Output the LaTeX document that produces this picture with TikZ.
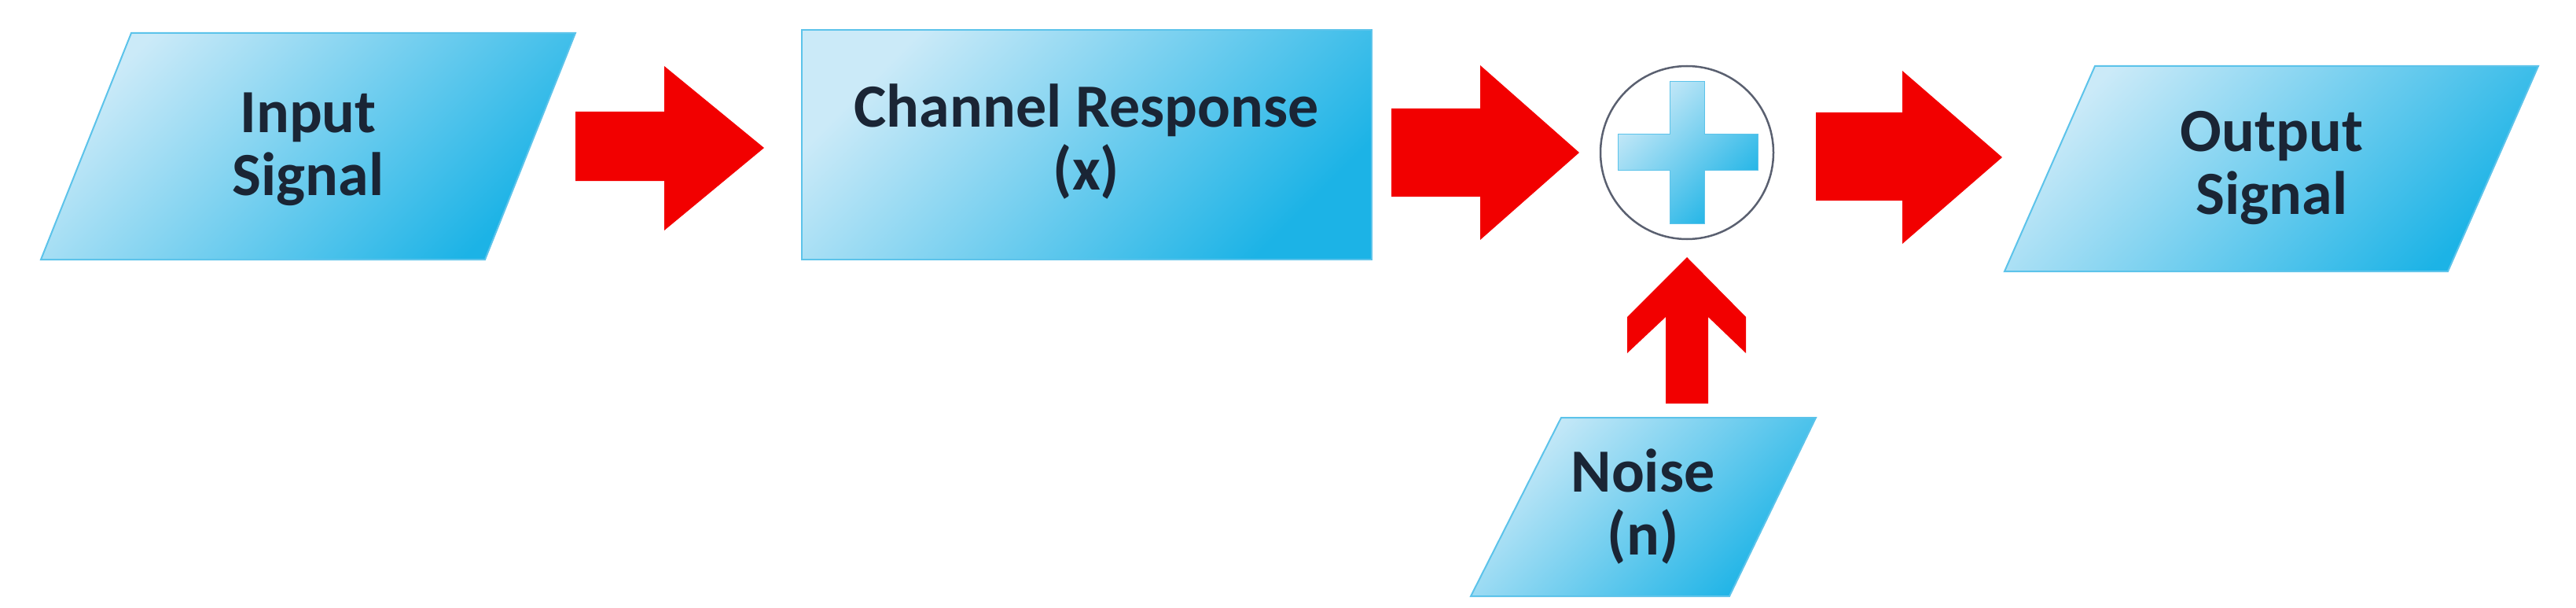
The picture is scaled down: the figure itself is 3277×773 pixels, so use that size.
\documentclass[tikz,border=0pt]{standalone}
\usepackage{fontspec}
\setmainfont{Carlito}
\definecolor{lb}{HTML}{CBEAF8}
\definecolor{db}{HTML}{1CB3E6}
\definecolor{eb}{HTML}{5CC3EA}
\definecolor{ar}{HTML}{F20000}
\definecolor{tx}{HTML}{1A2535}
\definecolor{cg}{HTML}{5A6070}
\begin{document}
\begin{tikzpicture}[x=1pt,y=-1pt,
  grad/.style={shading=axis,top color=lb,bottom color=db,shading angle=45},
  blk/.style={draw=eb,line width=2pt,grad},
  arr/.style={fill=ar,draw=none},
  txt/.style={font=\bfseries\fontsize{78}{80}\selectfont,align=center,text=tx}]
\useasboundingbox (0,0) rectangle (3277,773);
% blocks
\path[blk] (167,42) -- (732,42) -- (617,330) -- (52,330) -- cycle;
\node[txt] (in) at (392,190) {Input\\Signal};
\path[blk] (1020,38) rectangle (1745,330);
\node[txt] (ch) at (1382,180) {Channel Response\\(x)};
\path[blk] (2665,84) -- (3229,84) -- (3114,345) -- (2550,345) -- cycle;
\node[txt] (out) at (2890,214) {Output\\Signal};
\path[blk] (1986,531) -- (2310,531) -- (2200,758) -- (1871,758) -- cycle;
\node[txt] (no) at (2090,644) {Noise\\(n)};
% sum
\node[circle,draw=cg,line width=2.5pt,minimum size=220pt,inner sep=0] (sum) at (2146,194) {};
\path[grad,draw=eb,line width=1pt]
 (2124,104) -- (2168,104) -- (2168,170) -- (2236,170) -- (2236,216) -- (2168,216) -- (2168,284) -- (2124,284) -- (2124,216) -- (2058,216) -- (2058,170) -- (2124,170) -- cycle;
% arrows
\path[arr] (732,142) -- (845,142) -- (845,84) -- (972,188) -- (845,293) -- (845,230) -- (732,230) -- cycle;
\path[arr] (1770,138) -- (1883,138) -- (1883,83) -- (2009,194) -- (1883,305) -- (1883,250) -- (1770,250) -- cycle;
\path[arr] (2310,143) -- (2420,143) -- (2420,90) -- (2547,200) -- (2420,310) -- (2420,255) -- (2310,255) -- cycle;
\path[arr] (2119,513) -- (2119,403) -- (2070,449) -- (2070,403) -- (2146,327) -- (2221,403) -- (2221,449) -- (2173,403) -- (2173,513) -- cycle;
\end{tikzpicture}
\end{document}
